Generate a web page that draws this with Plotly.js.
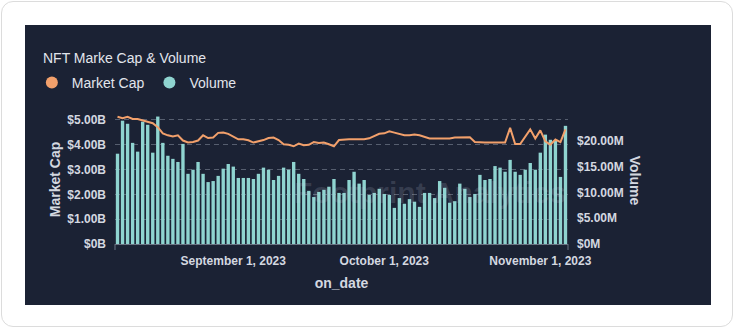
<!DOCTYPE html>
<html>
<head>
<meta charset="utf-8">
<script src="https://cdn.plot.ly/plotly-3.0.1.min.js"></script>
<style>
  html, body { margin: 0; padding: 0; background: #ffffff; width: 736px; height: 330px; overflow: hidden; }
  #card { position: absolute; left: 1px; top: 1px; width: 732px; height: 326px; border: 1px solid #dcdcdc; border-radius: 12px; box-sizing: border-box; background: #ffffff; }
  #chart { position: absolute; left: 25px; top: 25px; width: 686px; height: 280px; background: #1b2234; }
</style>
</head>
<body>
<div id="card"></div>
<div id="chart"></div>
<script>
// ---- data ----
const dates = [
  '2023-08-09','2023-08-10','2023-08-11','2023-08-12','2023-08-13','2023-08-14','2023-08-15','2023-08-16','2023-08-17','2023-08-18',
  '2023-08-19','2023-08-20','2023-08-21','2023-08-22','2023-08-23','2023-08-24','2023-08-25','2023-08-26','2023-08-27','2023-08-28',
  '2023-08-29','2023-08-30','2023-08-31','2023-09-01','2023-09-02','2023-09-03','2023-09-04','2023-09-05','2023-09-06','2023-09-07',
  '2023-09-08','2023-09-09','2023-09-10','2023-09-11','2023-09-12','2023-09-13','2023-09-14','2023-09-15','2023-09-16','2023-09-17',
  '2023-09-18','2023-09-19','2023-09-20','2023-09-21','2023-09-22','2023-09-23','2023-09-24','2023-09-25','2023-09-26','2023-09-27',
  '2023-09-28','2023-09-29','2023-09-30','2023-10-01','2023-10-02','2023-10-03','2023-10-04','2023-10-05','2023-10-06','2023-10-07',
  '2023-10-08','2023-10-09','2023-10-10','2023-10-11','2023-10-12','2023-10-13','2023-10-14','2023-10-15','2023-10-16','2023-10-17',
  '2023-10-18','2023-10-19','2023-10-20','2023-10-21','2023-10-22','2023-10-23','2023-10-24','2023-10-25','2023-10-26','2023-10-27',
  '2023-10-28','2023-10-29','2023-10-30','2023-10-31','2023-11-01','2023-11-02','2023-11-03','2023-11-04','2023-11-05','2023-11-06'
];
// Volume in millions of USD
const volumeM = [
  17.5,23.9,23.3,19.6,17.9,23.7,23.1,17.7,24.7,19.6,
  17.1,16.5,15.9,19.4,13.6,14.4,15.9,13.6,12.0,12.2,
  13.2,14.6,15.5,15.0,12.8,12.8,12.8,12.6,13.6,14.8,
  14.4,12.4,13.2,14.8,14.4,15.9,13.6,12.6,10.3,9.1,
  10.1,10.5,11.1,12.6,9.9,9.9,12.4,14.0,11.7,12.4,
  9.5,9.9,10.7,9.7,9.5,7.0,8.9,7.8,8.7,8.2,
  7.2,9.9,9.9,8.9,12.2,10.9,8.0,8.3,11.7,10.7,
  9.1,9.7,13.4,12.4,12.6,15.1,14.8,14.0,16.3,14.0,
  13.4,14.4,15.7,14.4,17.7,21.2,20.2,20.0,13.0,22.9
];
// Market cap in billions of USD
const marketCapB = [
  5.13,5.07,5.13,5.04,5.04,4.99,4.95,4.87,4.71,4.46,
  4.38,4.33,4.38,4.17,4.09,4.11,4.17,4.38,4.27,4.29,
  4.48,4.49,4.44,4.32,4.22,4.22,4.18,4.09,4.13,4.19,
  4.27,4.29,4.19,4.02,4.00,3.94,4.05,3.98,4.00,4.11,
  4.07,4.09,4.02,3.94,4.19,4.22,4.22,4.22,4.22,4.22,
  4.26,4.35,4.44,4.46,4.54,4.49,4.42,4.38,4.38,4.41,
  4.38,4.31,4.25,4.25,4.25,4.25,4.25,4.29,4.29,4.30,
  4.30,4.11,4.09,4.09,4.09,4.09,4.09,4.09,4.68,4.03,
  4.03,4.31,4.62,4.25,4.58,4.14,4.00,4.21,4.11,4.62
];
const capTickVals = [0, 1e9, 2e9, 3e9, 4e9, 5e9];
const capTickText = ['$0B', '$1.00B', '$2.00B', '$3.00B', '$4.00B', '$5.00B'];
const volTickVals = [0, 5e6, 10e6, 15e6, 20e6];
const volTickText = ['$0M', '$5.00M', '$10.00M', '$15.00M', '$20.00M'];
const seriesNames = ['Market Cap', 'Volume'];

// ---- styles ----
const ORANGE = '#f2a06b';
const TEAL = '#8fd4d0';
const TXT = '#d4d8e0';
const FONT = 'Liberation Sans, Arial, Helvetica, sans-serif';

const volume = volumeM.map(v => v * 1e6);
const marketCap = marketCapB.map(v => v * 1e9);

const traces = [
  { type: 'bar', x: dates, y: volume, name: seriesNames[1], yaxis: 'y',
    marker: { color: TEAL, line: { width: 0 } }, showlegend: false, hoverinfo: 'skip' },
  { type: 'scatter', mode: 'lines', x: dates, y: marketCap, name: seriesNames[0], yaxis: 'y2',
    line: { color: ORANGE, width: 2 }, showlegend: false, hoverinfo: 'skip' },
  // legend entries (circle symbols)
  { type: 'scatter', mode: 'markers', x: [null], y: [null], name: seriesNames[0], yaxis: 'y2',
    marker: { color: ORANGE, size: 12, symbol: 'circle' } },
  { type: 'scatter', mode: 'markers', x: [null], y: [null], name: seriesNames[1], yaxis: 'y',
    marker: { color: TEAL, size: 12, symbol: 'circle' } }
];

const layout = {
  width: 686, height: 280,
  paper_bgcolor: '#1b2234', plot_bgcolor: '#1b2234',
  margin: { l: 90, r: 143, t: 90, b: 61 },
  font: { family: FONT, color: TXT },
  bargap: 0.33,
  title: { text: 'NFT Marke Cap & Volume', xref: 'container', x: 0.0262, xanchor: 'left',
           yref: 'container', y: 0.883, yanchor: 'middle',
           font: { family: FONT, size: 14, color: '#e2e5ec', weight: 500 } },
  showlegend: true,
  legend: { orientation: 'h', xref: 'container', yref: 'container', x: 0.010, xanchor: 'left',
            y: 0.793, yanchor: 'middle', font: { family: FONT, size: 14, color: '#e2e5ec' },
            bgcolor: 'rgba(0,0,0,0)', itemwidth: 30, traceorder: 'normal' },
  xaxis: {
    type: 'date', range: ['2023-08-08 12:00', '2023-11-06 12:00'],
    tick0: '2023-08-01', dtick: 'M1', tickformat: '%B %-d, %Y',
    showgrid: false, zeroline: false, showline: true, linecolor: '#6b7282', linewidth: 1,
    ticks: '', ticklabelstandoff: 6,
    tickfont: { family: FONT, size: 12, color: TXT, weight: 'bold' },
    title: { text: 'on_date', standoff: 10, font: { family: FONT, size: 14, color: TXT, weight: 'bold' } }
  },
  yaxis: {
    side: 'right', range: [0, 25e6], tickvals: volTickVals, ticktext: volTickText,
    showgrid: false, zeroline: false, showline: false, ticks: '', ticklabelstandoff: 8,
    tickfont: { family: FONT, size: 12, color: TXT, weight: 'bold' }
  },
  yaxis2: {
    overlaying: 'y', side: 'left', range: [0, 5.2e9], tickvals: capTickVals, ticktext: capTickText,
    showgrid: true, gridcolor: 'rgba(160,168,185,0.45)', griddash: '5px,4px', gridwidth: 1,
    zeroline: false, showline: false, ticks: '', ticklabelstandoff: 8,
    tickfont: { family: FONT, size: 12, color: TXT, weight: 'bold' },
    title: { text: 'Market Cap', standoff: 3, font: { family: FONT, size: 14, color: TXT, weight: 'bold' } }
  },
  shapes: [
    { type: 'line', xref: 'paper', yref: 'paper', x0: 0, x1: 0, ysizemode: 'pixel', yanchor: 0, y0: 0, y1: -6,
      line: { color: '#6b7282', width: 1 } },
    { type: 'line', xref: 'paper', yref: 'paper', x0: 1, x1: 1, ysizemode: 'pixel', yanchor: 0, y0: 0, y1: -6,
      line: { color: '#6b7282', width: 1 } }
  ],
  annotations: [
    { text: 'Volume', xref: 'paper', yref: 'paper', x: 1.148, y: 0.49, textangle: 90, showarrow: false,
      xanchor: 'center', yanchor: 'middle', font: { family: FONT, size: 14, color: TXT, weight: 'bold' } },
    { text: 'Footprint Analytics', xref: 'paper', yref: 'paper', x: 0.695, y: 0.40, showarrow: false,
      xanchor: 'center', yanchor: 'middle', font: { family: FONT, size: 30, color: 'rgba(205,210,228,0.16)', weight: 'bold' } }
  ]
};

Plotly.newPlot('chart', traces, layout, { staticPlot: true, displayModeBar: false });
</script>
</body>
</html>
